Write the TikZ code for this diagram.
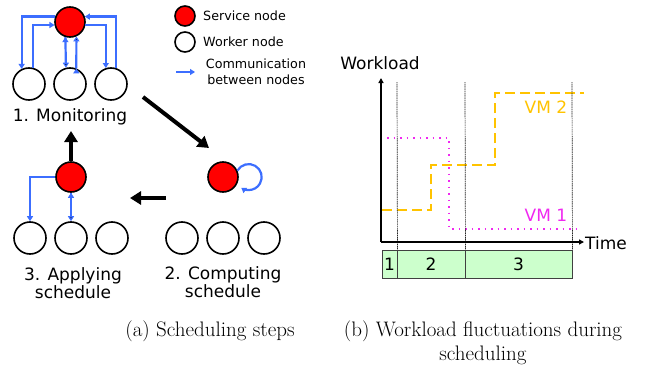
\documentclass[tikz,border=0pt]{standalone}
\usepackage{fontspec}
\newfontfamily\dejavu{DejaVu Sans}
\usepackage{xcolor}
\usepackage{tikz}
\usetikzlibrary{arrows.meta,positioning,calc}

\definecolor{servicered}{RGB}{255,0,0}
\definecolor{commblue}{RGB}{60,110,255}
\definecolor{vmorange}{RGB}{255,195,0}
\definecolor{vmmagenta}{RGB}{240,40,240}
\definecolor{phasegreen}{RGB}{204,255,204}

\begin{document}
\begin{tikzpicture}[x=1pt,y=-1pt,node distance=41pt,font=\dejavu\fontsize{17}{18.5}\selectfont]
	\tikzstyle{service}=[circle,draw,fill=servicered,line width=1.6pt,minimum size=30pt,inner sep=0pt]
	\tikzstyle{worker}=[circle,draw,line width=1.6pt,minimum size=32pt,inner sep=0pt]
	\tikzstyle{comm}=[draw=commblue,line width=2.2pt,-{Triangle[length=5pt,width=6pt]}]
	\tikzstyle{bigarrow}=[line width=4pt,-{Triangle[length=11pt,width=13pt]}]
	\tikzstyle{steplabel}=[inner sep=0pt]
	\tikzstyle{legendtext}=[inner sep=0pt,font=\dejavu\fontsize{12.7}{15.5}\selectfont]
	\tikzstyle{axis}=[line width=1.5pt,-{Triangle[length=5pt,width=5pt]}]
	\tikzstyle{phase}=[draw=black!75,fill=phasegreen,line width=0.9pt,minimum height=28pt,inner sep=0pt]
	\tikzstyle{phaseline}=[black!85,line width=0.7pt,dash pattern=on 1.2pt off 0.6pt]
	\tikzstyle{vmtwo}=[vmorange,line width=2pt,dash pattern=on 10pt off 5pt]
	\tikzstyle{vmone}=[vmmagenta,line width=1.7pt,dash pattern=on 1.5pt off 5pt]
	\tikzstyle{caption}=[inner sep=0pt,font=\rmfamily\fontsize{21}{24}\selectfont]

	\useasboundingbox (0,0) rectangle (662,367);

	\node[service](s1) at (70,22){};
	\node[worker](w11) at (29,84){};
	\node[worker](w12)[right of=w11]{};
	\node[worker](w13)[right of=w12]{};
	\node[steplabel](mon) at (70,117){1. Monitoring};

	\draw[comm] (s1.160) -| (w11.116);
	\draw[comm] (w11.76) |- (s1.191);
	\path[comm] (s1.253) edge (w12.104);
	\path[comm] (w12.68) edge (s1.294);
	\draw[comm] (s1.348) -| (w13.108);
	\draw[comm] (w13.72) |- (s1.20);

	\node[service,minimum size=20pt](ls) at (185,16){};
	\node[worker,minimum size=20pt](lw) at (185,42){};
	\coordinate (lc1) at (176,72);
	\coordinate (lc2) at (195,72);
	\draw[comm] (lc1) -- (lc2);
	\node[legendtext,anchor=west](lst) at (203,16){Service node};
	\node[legendtext,anchor=west](lwt) at (203,42){Worker node};
	\node[legendtext,align=center](lct) at (256,72){Communication\\between nodes};

	\coordinate (a1s) at (143,97);
	\coordinate (a1e) at (209,148);
	\draw[bigarrow] (a1s) -- (a1e);

	\node[service](s2) at (223,177){};
	\draw[comm] (s2.24) arc[start angle=150,end angle=-125,radius=13pt];
	\node[worker](w21) at (182,238){};
	\node[worker](w22)[right of=w21]{};
	\node[worker](w23)[right of=w22]{};
	\node[steplabel,align=center](comp) at (223,282){2. Computing\\schedule};

	\coordinate (a2s) at (166,198);
	\coordinate (a2e) at (130,198);
	\draw[bigarrow] (a2s) -- (a2e);

	\node[service](s3) at (71,177){};
	\node[worker](w31) at (30,238){};
	\node[worker](w32)[right of=w31]{};
	\node[worker](w33)[right of=w32]{};
	\draw[comm] (s3.west) -| (w31.north);
	\path[comm] (s3.south) edge (w32.north);
	\node[steplabel,align=center](appl) at (73,283){3. Applying\\schedule};

	\coordinate (a3e) at (71,131);
	\draw[bigarrow] (s3.north) -- (a3e);

	\draw[vmtwo] (382,210) -- (431,210) -- (431,165) -- (495,165) -- (495,93) -- (584,93);
	\draw[vmone] (387,138) -- (449,138) -- (449,229) -- (577,229);
	\node[steplabel,text=vmorange](vm2) at (546,107){VM 2};
	\node[steplabel,text=vmmagenta](vm1) at (546,215){VM 1};

	\node[phase,minimum width=15pt](p1) at (389.5,264){1};
	\node[phase,minimum width=68pt](p2) at (431,264){2};
	\node[phase,minimum width=107pt](p3) at (518.5,264){3};
	\coordinate (t1) at (397,82);
	\coordinate (t2) at (465,82);
	\coordinate (t3) at (572,82);
	\draw[phaseline] (t1) -- (p1.north east);
	\draw[phaseline] (t2) -- (p2.north east);
	\draw[phaseline] (t3) -- (p3.north east);

	\coordinate (org) at (381,242);
	\coordinate (ytop) at (381,78);
	\coordinate (xend) at (584,242);
	\draw[axis] (org) -- (ytop);
	\draw[axis] (org) -- (xend);
	\node[steplabel](wl) at (380,63){Workload};
	\node[steplabel,anchor=west](tm) at (585,243){Time};

	\node[caption](capa) at (210,331){(a) Scheduling steps};
	\node[caption,align=center](capb) at (483,343){(b) Workload fluctuations during\\scheduling};
\end{tikzpicture}
\end{document}
